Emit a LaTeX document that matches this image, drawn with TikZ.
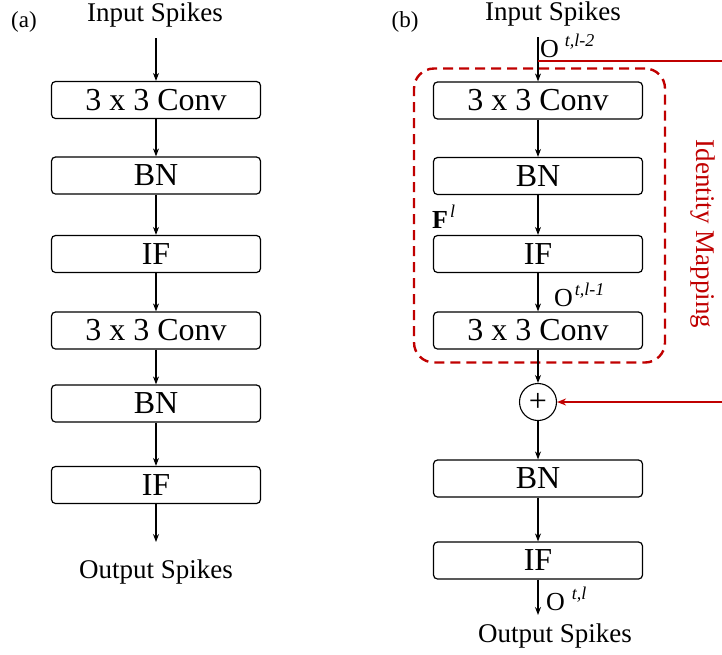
\documentclass[tikz,border=0pt]{standalone}
\usepackage{fontspec}
\setmainfont{Liberation Serif}
\usetikzlibrary{arrows.meta}
\definecolor{idred}{RGB}{192,0,0}
\newcommand{\supx}[1]{\raisebox{11pt}{\fontsize{18}{18}\selectfont\itshape #1}}
\tikzset{
  blk/.style={draw, rounded corners=4pt, minimum width=209pt, minimum height=37pt,
    inner sep=0pt, line width=1.2pt, font=\fontsize{32}{32}\selectfont},
  lbl/.style={inner sep=0pt, anchor=base, font=\fontsize{27}{27}\selectfont},
  sym/.style={inner sep=0pt, anchor=base west, font=\fontsize{26}{26}\selectfont},
  flow/.style={-{Stealth[length=8pt,width=6pt]}, line width=1.1pt},
  redflow/.style={-{Stealth[length=9pt,width=7pt]}, line width=1.4pt, idred},
}
\begin{document}
\begin{tikzpicture}[x=1pt,y=-1pt]
\useasboundingbox (0,0) rectangle (722,654);

% ---- (a) plain block ----
\node[lbl, font=\fontsize{23}{23}\selectfont] (tagA) at (24,27) {(a)};
\node[lbl] (inA) at (155,21) {Input Spikes};
\coordinate (inAend) at (156,38);
\node[blk] (a1) at (156,100) {3 x 3 Conv};
\node[blk] (a2) at (156,175.5) {BN};
\node[blk] (a3) at (156,254) {IF};
\node[blk] (a4) at (156,330.5) {3 x 3 Conv};
\node[blk] (a5) at (156,403.5) {BN};
\node[blk] (a6) at (156,485) {IF};
\coordinate (outAend) at (156,542);
\node[lbl] (outA) at (156,578) {Output Spikes};

\draw[flow] (inAend) -- (a1.north);
\foreach \p/\q in {a1/a2,a2/a3,a3/a4,a4/a5,a5/a6}
  \draw[flow] (\p.south) -- (\q.north);
\draw[flow] (a6.south) -- (outAend);

% ---- (b) residual block ----
\node[lbl, font=\fontsize{23}{23}\selectfont] (tagB) at (405,27) {(b)};
\node[lbl] (inB) at (553,20) {Input Spikes};
\coordinate (inBend) at (538,37);
\coordinate (split) at (538,61);
\coordinate (redR) at (722,61);
\node[blk] (b1) at (538,100.5) {3 x 3 Conv};
\node[blk] (b2) at (538,176) {BN};
\node[blk] (b3) at (538,254) {IF};
\node[blk] (b4) at (538,330.5) {3 x 3 Conv};
\node[draw, circle, minimum size=37pt, inner sep=0pt, line width=1.1pt,
      font=\fontsize{32}{32}\selectfont] (add) at (538,402) {+};
\node[blk] (b5) at (538,478.5) {BN};
\node[blk] (b6) at (538,560.5) {IF};
\coordinate (outBend) at (538,615);
\node[lbl] (outB) at (555,642) {Output Spikes};
\coordinate (redR2) at (722,402);

% dashed frame around the residual branch
\node[draw=idred, dashed, dash pattern=on 10pt off 6pt, line width=2.4pt,
      rounded corners=20pt, minimum width=251pt, minimum height=294pt,
      inner sep=0pt] (frame) at (539.5,215.5) {};

% signal labels
\node[sym] (o2) at (540,57) {O\hspace{6pt}\supx{t,l-2}};
\node[sym] (fl) at (432,228) {\textbf{F}\hspace{2pt}\supx{l}};
\node[sym] (o1) at (554,306) {O\hspace{2pt}\supx{t,l-1}};
\node[sym] (o0) at (546,610) {O\hspace{7pt}\supx{t,l}};

% identity label
\node[inner sep=0pt, text=idred, rotate=-90, font=\fontsize{27}{27}\selectfont]
  (idm) at (703,234) {Identity Mapping};

% connectors
\draw[flow] (inBend) -- (b1.north);
\draw[idred, line width=1.4pt] (split) -- (redR);
\foreach \p/\q in {b1/b2,b2/b3,b3/b4,b4/add,add/b5,b5/b6}
  \draw[flow] (\p.south) -- (\q.north);
\draw[flow] (b6.south) -- (outBend);
\draw[redflow] (redR2) -- (add.east);
\end{tikzpicture}
\end{document}
